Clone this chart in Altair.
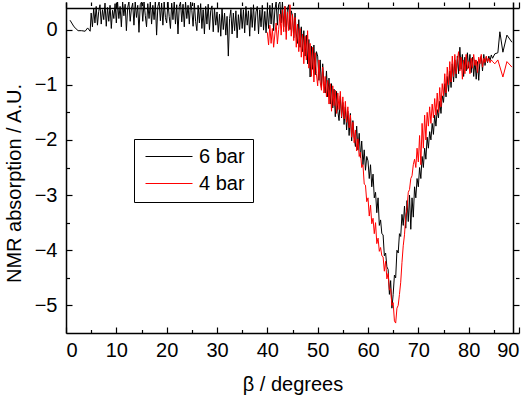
import altair as alt
import pandas as pd

# ---------------- data ----------------
# 6 bar: sparse start
black_start_x = [0.8, 1.6, 2.4, 3.1, 3.8, 4.3, 4.8]
black_start_y = [0.17, 0.05, -0.02, -0.02, -0.03, 0.03, -0.03]

# 6 bar: dense part, x from 5.0 in 0.25 degree steps
black_dense_x0 = 5.0
black_dense_step = 0.25
black_dense_y = [
    0.30, 0.05, 0.38, 0.12, 0.42, 0.08, 0.33, 0.45, 0.10, 0.36, 0.18, 0.48, 0.06, 0.40, 0.15, 0.44, 0.02, 0.35, 0.20, 0.47,
    0.12, 0.50, 0.20, 0.42, 0.05, 0.50, 0.25, 0.46, -0.02, 0.40, 0.50, 0.15, 0.38, 0.48, 0.08, 0.50, 0.22, 0.44, -0.05, 0.45,
    0.50, 0.15, 0.50, 0.26, 0.05, 0.47, 0.20, 0.50, 0.10, 0.44, 0.18, 0.50, -0.10, 0.42, 0.50, 0.16, 0.48, 0.08, 0.50, 0.22,
    0.12, 0.50, 0.24, 0.02, 0.48, 0.18, 0.50, 0.10, 0.45, -0.08, 0.42, 0.50, 0.14, 0.46, 0.05, 0.50, 0.20, 0.44, 0.10, 0.50,
    0.35, 0.06, 0.48, 0.15, -0.02, 0.44, 0.12, 0.47, 0.02, 0.36, -0.08, 0.42, 0.10, 0.46, 0.00, 0.34, 0.43, -0.04, 0.38, 0.08,
    0.32, -0.05, 0.28, -0.12, 0.38, 0.00, 0.30, -0.10, 0.24, -0.48, 0.20, 0.36, -0.08, 0.30, -0.02, 0.34, -0.15, 0.27, 0.00, 0.38,
    0.02, 0.36, -0.06, 0.42, 0.08, 0.34, -0.12, 0.40, 0.04, 0.45, -0.02, 0.32, 0.42, -0.08, 0.36, 0.05, 0.44, -0.01, 0.33, -0.06,
    0.38, 0.02, 0.44, 0.10, 0.48, -0.02, 0.36, 0.50, 0.08, 0.46, 0.50, 0.12, 0.50, 0.05, 0.42, -0.04, 0.38, 0.45, 0.00, 0.34,
    0.25, -0.15, 0.30, -0.08, -0.25, 0.18, -0.32, 0.05, -0.40, -0.02, -0.48, -0.10, -0.62, -0.18, -0.86, -0.30, -0.72, -0.28, -0.82, -0.40,
    -0.48, -0.92, -0.55, -1.05, -0.62, -0.98, -1.15, -0.75, -1.22, -0.88, -1.35, -0.98, -1.42, -1.08, -1.58, -1.12, -1.48, -1.65, -1.20, -1.60,
    -1.32, -1.72, -1.40, -1.82, -1.48, -1.92, -1.52, -2.02, -1.65, -1.95, -2.12, -1.75, -2.18, -1.88, -2.32, -2.02, -2.45, -2.18, -2.55, -2.30,
    -2.38, -2.70, -2.45, -2.85, -2.62, -3.05, -2.95, -3.32, -3.05, -3.55, -3.45, -3.70, -3.72, -4.10, -4.05, -4.30, -4.35, -4.80, -4.55, -5.05,
    -4.80, -4.45, -4.50, -4.00, -4.05, -3.70, -3.75, -3.35, -3.55, -3.20, -3.60, -3.10, -3.48, -3.00, -3.62, -3.05, -3.40, -2.85, -3.05, -2.70,
    -2.85, -2.50, -2.70, -2.30, -2.50, -2.15, -2.35, -1.95, -2.15, -1.85, -2.00, -1.70, -1.90, -1.55, -1.75, -1.45, -1.60, -1.30, -1.52, -1.20,
    -1.32, -0.98, -1.22, -0.85, -1.12, -0.75, -1.05, -0.62, -0.95, -0.55, -0.88, -0.48, -0.80, -0.32, -0.72, -0.45, -0.85, -0.50, -0.75, -0.42,
    -0.70, -0.45, -0.78, -0.50, -0.85, -0.55, -0.90, -0.58, -0.92, -0.55, -0.48, -0.75, -0.45, -0.65, -0.50, -0.60, -0.48, -0.56, -0.46, -0.52,
]
# 6 bar: sparse end
black_end_x = [85.2, 85.8, 86.2, 86.8, 87.6, 88.6]
black_end_y = [-0.44, -0.42, -0.04, -0.41, -0.10, -0.23]

# 4 bar: dense part, x from 40.0 in 0.25 degree steps
red_dense_x0 = 40.0
red_dense_step = 0.25
red_dense_y = [
    -0.05, -0.28, 0.08, -0.25, 0.02, -0.32, -0.08, 0.12, -0.26, 0.00, 0.28, -0.10, 0.36, -0.04, 0.42, -0.18, 0.32, -0.02, 0.45, -0.12,
    0.28, -0.20, 0.22, -0.32, 0.10, -0.40, 0.02, -0.50, -0.08, -0.62, -0.12, -0.55, -0.02, -0.70, -0.25, -0.85, -0.32, -0.95, -0.42, -0.80,
    -1.02, -0.55, -0.95, -1.10, -0.68, -1.15, -0.85, -1.22, -0.92, -1.35, -0.98, -1.48, -1.02, -1.38, -1.10, -1.52, -1.15, -1.45, -1.12, -1.58,
    -1.22, -1.62, -1.30, -1.68, -1.40, -1.78, -1.55, -1.95, -1.68, -2.05, -1.82, -2.20, -1.98, -2.30, -2.22, -2.50, -2.45, -2.80, -2.82, -3.12,
    -3.05, -3.38, -3.18, -3.52, -3.42, -3.70, -3.50, -3.88, -3.78, -4.02, -3.95, -4.10, -4.12, -4.38, -4.20, -4.52, -4.42, -4.72, -4.70, -5.00,
    -4.95, -5.28, -5.32, -5.05, -5.00, -4.80, -4.58, -4.22, -3.92, -3.72, -3.38, -3.25, -2.95, -2.90, -2.70, -2.65, -2.45, -2.35, -2.50, -2.15,
    -2.40, -1.92, -2.45, -1.70, -2.15, -1.55, -2.00, -1.50, -1.75, -1.40, -1.70, -1.35, -1.60, -1.25, -1.55, -1.15, -1.50, -1.05, -1.40, -0.98,
    -1.20, -0.80, -1.15, -0.68, -1.00, -0.58, -0.95, -0.48, -0.85, -0.45, -0.80, -0.55, -0.40, -0.75, -0.50, -0.90, -0.55, -0.80, -0.45, -0.72,
    -0.58, -0.80, -0.52, -0.70, -0.45, -0.65, -0.55, -0.78, -0.50, -0.62, -0.45, -0.68, -0.52, -0.60, -0.48, -0.58, -0.52, -0.60, -0.55, -0.58,
]
# 4 bar: sparse end
red_end_x = [85.2, 85.8, 86.8, 87.6, 88.6]
red_end_y = [-0.62, -0.55, -0.86, -0.58, -0.68]

series_names = ["6 bar", "4 bar"]
series_colors = ["black", "red"]

x_major = [0, 10, 20, 30, 40, 50, 60, 70, 80, 90]
x_minor = [5, 15, 25, 35, 45, 55, 65, 75, 85]
y_major = [-5, -4, -3, -2, -1, 0]
y_minor = [-4.5, -3.5, -2.5, -1.5, -0.5]

# ---------------- build table ----------------
bx = black_start_x + [black_dense_x0 + black_dense_step * i for i in range(len(black_dense_y))] + black_end_x
by = black_start_y + black_dense_y + black_end_y
rx = [red_dense_x0 + red_dense_step * i for i in range(len(red_dense_y))] + red_end_x
ry = red_dense_y + red_end_y

df = pd.DataFrame({
    "beta": bx + rx,
    "val": by + ry,
    "series": [series_names[0]] * len(bx) + [series_names[1]] * len(rx),
    "order": list(range(len(bx))) + list(range(len(rx))),
})

FONT = "Liberation Sans"
FS = 20

xscale = alt.Scale(domain=[0, 90], nice=False, zero=False)
yscale = alt.Scale(domain=[-5.5, 0.5], nice=False, zero=False)
cscale = alt.Scale(domain=series_names, range=series_colors)


def ax(orient, values=None, labels=False, ticks=True, size=6, domain=False, title=None,
       pad=6, tpad=8, title_y=None):
    kw = dict(orient=orient, grid=False, domain=domain, ticks=ticks, labels=labels,
              tickColor="black", tickWidth=1.2, domainColor="black", domainWidth=1.5,
              labelFont=FONT, labelFontSize=FS, labelColor="black", labelPadding=pad,
              titleFont=FONT, titleFontSize=FS, titleColor="black", titleFontWeight="normal",
              titlePadding=tpad)
    if values is not None:
        kw["values"] = values
    if ticks:
        kw["tickSize"] = size
        kw["offset"] = -size
    kw["title"] = title
    if title_y is not None:
        kw["titleY"] = title_y
    return alt.Axis(**kw)


legend = alt.Legend(
    orient="none", legendX=68, legendY=137, title=None,
    strokeColor="black", fillColor="white", padding=8,
    symbolType="stroke", symbolStrokeWidth=1, symbolSize=2209, symbolOffset=3,
    clipHeight=19, rowPadding=6,
    labelFont=FONT, labelFontSize=FS, labelColor="black", labelOffset=6,
)

base = alt.Chart(df)

black = base.transform_filter(alt.datum.series == series_names[0]).mark_line(strokeWidth=1, clip=True).encode(
    x=alt.X("beta:Q", scale=xscale, axis=ax("bottom", values=x_major, labels=True, ticks=False, domain=True,
                                           title="β / degrees", pad=7, tpad=14)),
    y=alt.Y("val:Q", scale=yscale, axis=ax("left", values=y_major, labels=True, ticks=False, domain=True,
                                          title="NMR absorption / A.U.", pad=9, tpad=10, title_y=181)),
    color=alt.Color("series:N", scale=cscale, legend=legend, sort=series_names),
    order="order:Q",
)
red = base.transform_filter(alt.datum.series == series_names[1]).mark_line(strokeWidth=1, clip=True).encode(
    x=alt.X("beta:Q", scale=xscale, axis=ax("bottom", values=x_major, size=6)),
    y=alt.Y("val:Q", scale=yscale, axis=ax("left", values=y_major, size=6)),
    color=alt.Color("series:N", scale=cscale, legend=legend, sort=series_names),
    order="order:Q",
)
minor1 = base.mark_point(opacity=0).encode(
    x=alt.X("beta:Q", scale=xscale, axis=ax("bottom", values=x_minor, size=3.5)),
    y=alt.Y("val:Q", scale=yscale, axis=ax("left", values=y_minor, size=3.5)),
)
top_major = base.mark_point(opacity=0).encode(
    x=alt.X("beta:Q", scale=xscale, axis=ax("top", values=x_major, size=6, domain=True)),
    y=alt.Y("val:Q", scale=yscale, axis=ax("right", values=y_major, size=6, domain=True)),
)
top_minor = base.mark_point(opacity=0).encode(
    x=alt.X("beta:Q", scale=xscale, axis=ax("top", values=x_minor, size=3.5)),
    y=alt.Y("val:Q", scale=yscale, axis=ax("right", values=y_minor, size=3.5)),
)

chart = alt.layer(black, red, minor1, top_major, top_minor).resolve_axis(
    x="independent", y="independent"
).properties(
    width=453, height=331,
    autosize=alt.AutoSizeParams(type="none"),
    padding={"left": 66, "top": 2, "right": 12, "bottom": 71},
    background="white",
).configure_view(stroke=None)

chart.save("out.html", embed_options={"renderer": "svg", "actions": False})
